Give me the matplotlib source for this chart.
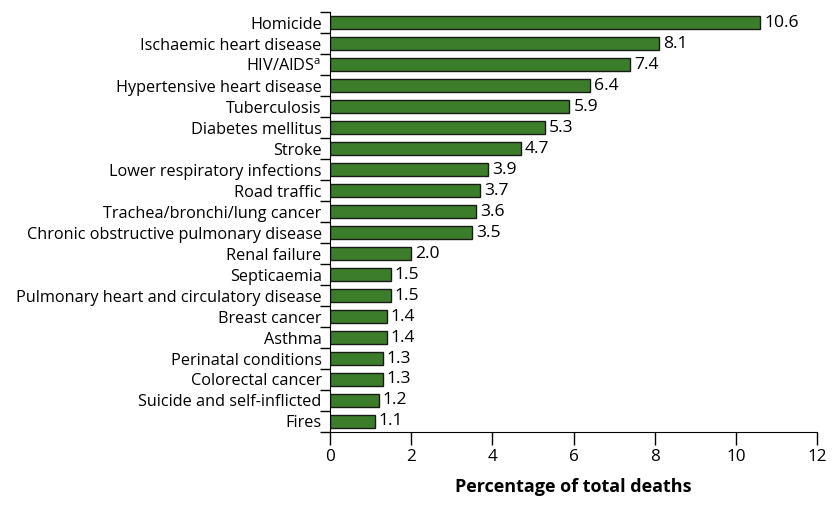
import matplotlib
matplotlib.use("Agg")
import matplotlib.pyplot as plt
import numpy as np

plt.rcParams['font.family'] = ['Open Sans', 'DejaVu Sans']

causes = ["Homicide", "Ischaemic heart disease", "HIV/AIDS$^\\mathregular{a}$",
          "Hypertensive heart disease", "Tuberculosis", "Diabetes mellitus",
          "Stroke", "Lower respiratory infections", "Road traffic",
          "Trachea/bronchi/lung cancer", "Chronic obstructive pulmonary disease",
          "Renal failure", "Septicaemia", "Pulmonary heart and circulatory disease",
          "Breast cancer", "Asthma", "Perinatal conditions", "Colorectal cancer",
          "Suicide and self-inflicted", "Fires"]
values = [10.6, 8.1, 7.4, 6.4, 5.9, 5.3, 4.7, 3.9, 3.7, 3.6, 3.5, 2.0,
          1.5, 1.5, 1.4, 1.4, 1.3, 1.3, 1.2, 1.1]
xticks = [0, 2, 4, 6, 8, 10, 12]

fig = plt.figure(figsize=(8.34, 5.05), dpi=100)
ax = fig.add_axes([0.3957, 0.1446, 0.5839, 0.8314])

y = np.arange(len(causes))
ax.barh(y, values, height=0.65, color='#3b7d2b', edgecolor='#1a1a1a', linewidth=1.0)
for yi, v in zip(y, values):
    ax.text(v + 0.1, yi, f"{v:.1f}", va='center', ha='left', fontsize=12.6)

ax.set_ylim(len(causes) - 0.5, -0.5)
ax.set_xlim(0, 12)
ax.set_yticks(y)
ax.set_yticklabels(causes, fontsize=11.7)
ax.tick_params(axis='y', length=0, pad=6)
ax.set_yticks(np.arange(len(causes) + 1) - 0.5, minor=True)
ax.tick_params(axis='y', which='minor', length=7, width=1)
ax.set_xticks(xticks)
ax.set_xticklabels([str(t) for t in xticks], fontsize=12.3)
ax.tick_params(axis='x', length=9.5, width=1, pad=3)
ax.spines['top'].set_visible(False)
ax.spines['right'].set_visible(False)
ax.set_xlabel("Percentage of total deaths", fontsize=13, fontweight='bold', labelpad=9)

fig.savefig("out.png", dpi=100)
